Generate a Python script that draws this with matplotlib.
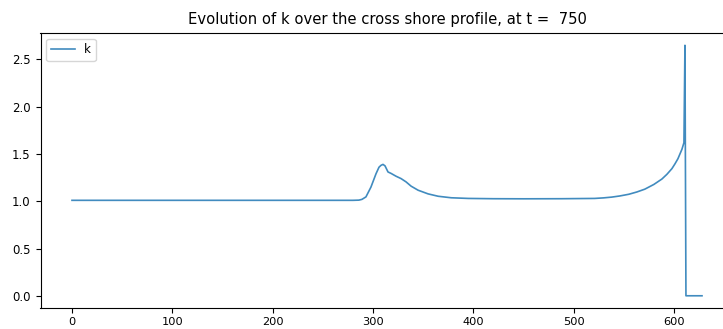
import matplotlib
matplotlib.use("Agg")
import matplotlib.pyplot as plt

# profil de k le long du profil cross-shore
x = [0, 50, 100, 150, 200, 250, 280, 286, 289, 293, 298, 303, 306, 308, 310, 312,
     315, 318, 323, 328, 333, 338, 345, 355, 365, 378, 395, 420, 450, 488, 521,
     530, 538, 546, 555, 563, 571, 580, 588, 593, 598, 601, 604, 606, 608, 610, 611, 612,
     615, 620, 625, 628]
k = [1.01, 1.01, 1.01, 1.01, 1.01, 1.01, 1.01, 1.012, 1.02, 1.046, 1.15, 1.29, 1.36, 1.38, 1.39, 1.375,
     1.31, 1.295, 1.265, 1.24, 1.205, 1.16, 1.117, 1.078, 1.053, 1.037, 1.03, 1.027, 1.026, 1.027, 1.03,
     1.036, 1.044, 1.056, 1.074, 1.098, 1.128, 1.178, 1.235, 1.285, 1.345, 1.395, 1.45, 1.5, 1.55, 1.62, 2.65, 0.0,
     0.0, 0.0, 0.0, 0.0]
t = 750

fig = plt.figure(figsize=(7.23, 3.29), dpi=100)
ax = fig.add_axes([40.5/723, 20.7/329, 693/723, 275.5/329])
ax.plot(x, k, label="k", color="#1f77b4", lw=1.2, alpha=0.85)
ax.legend(loc="upper left", fontsize=8.5)
ax.set_title("Evolution of k over the cross shore profile, at t =  " + str(t), fontsize=10.6)
ax.tick_params(axis="y", labelsize=8.5)
ax.tick_params(axis="x", labelsize=8.2, pad=2.5)
ax.set_xticks([0, 100, 200, 300, 400, 500, 600])
fig.savefig("out.png", dpi=100)
